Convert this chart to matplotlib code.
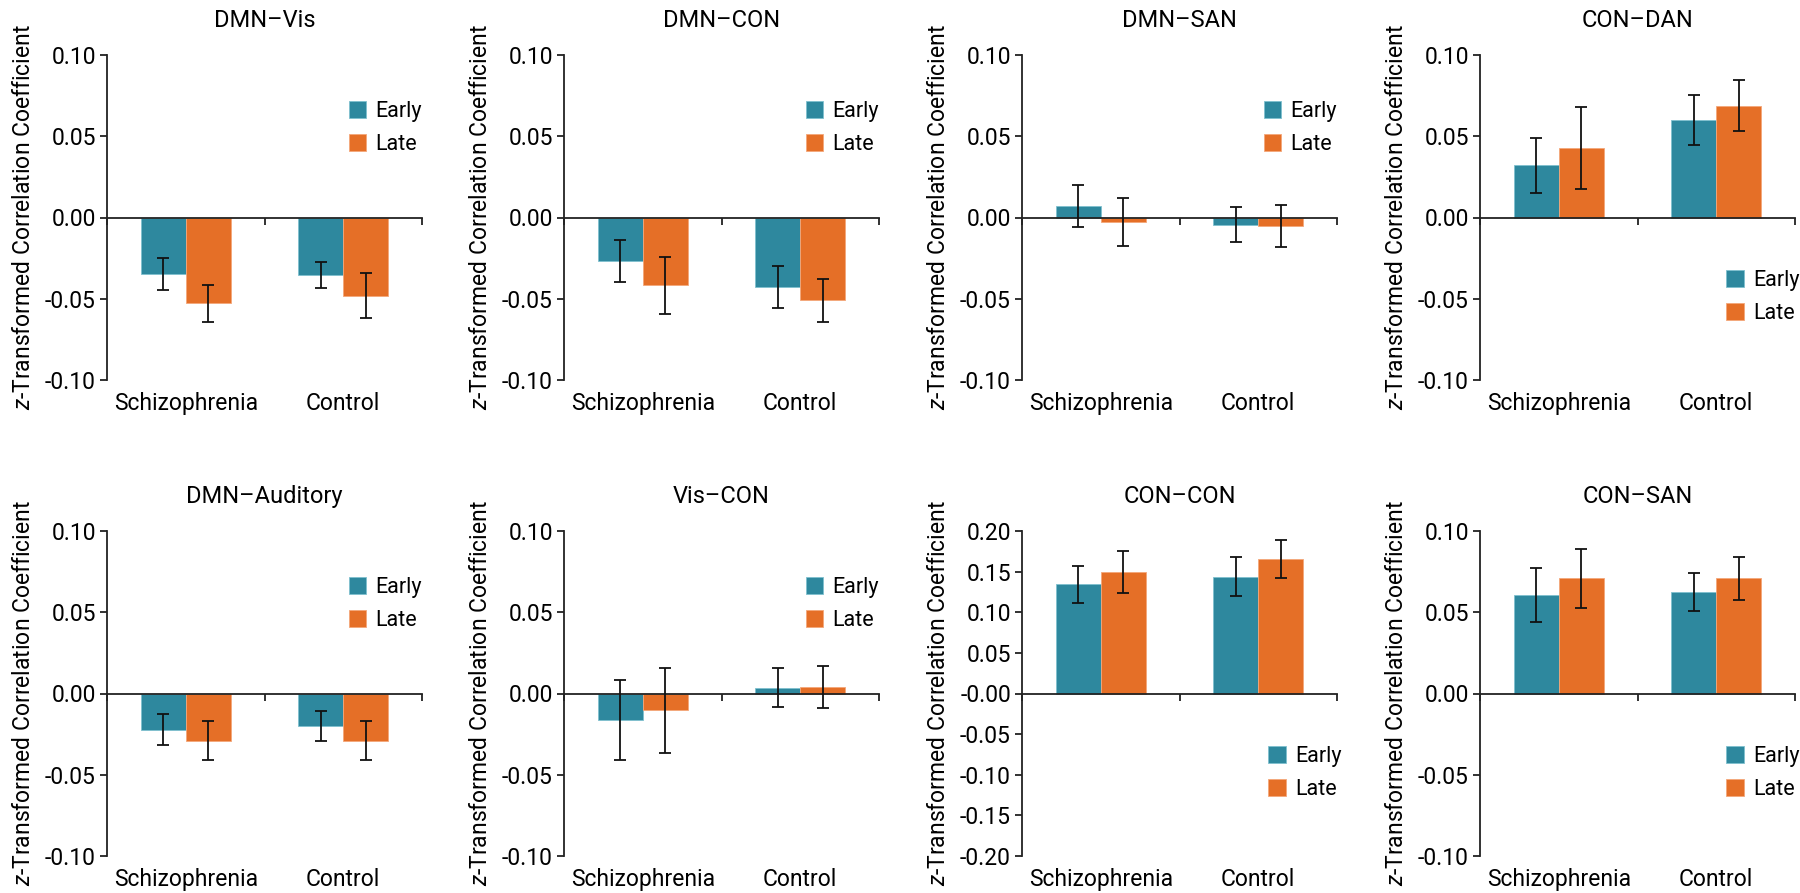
import matplotlib
matplotlib.use("Agg")
import matplotlib.pyplot as plt
import numpy as np

plt.rcParams['font.family'] = ['Roboto', 'DejaVu Sans']
plt.rcParams['mathtext.fontset'] = 'custom'
plt.rcParams['mathtext.it'] = 'Roboto:italic'
plt.rcParams['mathtext.rm'] = 'Roboto'

titles = ["DMN\u2013Vis", "DMN\u2013CON", "DMN\u2013SAN", "CON\u2013DAN",
          "DMN\u2013Auditory", "Vis\u2013CON", "CON\u2013CON", "CON\u2013SAN"]
groups = ["Schizophrenia", "Control"]
series = ["Early", "Late"]

# values per panel: [Schizophrenia, Control]
early_vals = [[-0.0348, -0.0355], [-0.0268, -0.0426], [0.0072, -0.0045], [0.0322, 0.0600],
              [-0.0222, -0.0199], [-0.0162, 0.0035], [0.1347, 0.1437], [0.0606, 0.0622]]
late_vals = [[-0.0529, -0.0480], [-0.0418, -0.0510], [-0.0029, -0.0051], [0.0426, 0.0689],
             [-0.0290, -0.0290], [-0.0103, 0.0039], [0.1495, 0.1655], [0.0708, 0.0708]]
early_err = [[0.0097, 0.0080], [0.0128, 0.0130], [0.0130, 0.0108], [0.0169, 0.0155],
             [0.0095, 0.0092], [0.0247, 0.0120], [0.0228, 0.0238], [0.0168, 0.0117]]
late_err = [[0.0115, 0.0138], [0.0174, 0.0133], [0.0148, 0.0130], [0.0252, 0.0156],
            [0.0118, 0.0121], [0.0263, 0.0130], [0.0253, 0.0232], [0.0179, 0.0133]]
y_limits = [0.10, 0.10, 0.10, 0.10, 0.10, 0.10, 0.20, 0.10]
legend_low = [False, False, False, True, False, False, True, True]

c_early = "#2E889E"
c_late = "#E56F27"
e_early = "#7FC0CF"
e_late = "#F4A77A"

fig = plt.figure(figsize=(18, 8.93), dpi=100)
W, H = 1800, 893
lefts = [107, 564, 1022, 1480]
tops = [55, 531]
aw, ah = 315, 325

for i in range(8):
    r, c = divmod(i, 4)
    ax = fig.add_axes([lefts[c] / W, 1 - (tops[r] + ah) / H, aw / W, ah / H])
    x = np.array([0.5, 1.5])
    bw = 0.285
    ax.bar(x - bw / 2, early_vals[i], bw, color=c_early, edgecolor=e_early, linewidth=0.6,
           label=series[0], zorder=2)
    ax.bar(x + bw / 2, late_vals[i], bw, color=c_late, edgecolor=e_late, linewidth=0.6,
           label=series[1], zorder=2)
    ax.errorbar(x - bw / 2, early_vals[i], yerr=early_err[i], fmt='none', ecolor='#111111',
                elinewidth=1.3, capsize=4.5, capthick=1.3, zorder=3)
    ax.errorbar(x + bw / 2, late_vals[i], yerr=late_err[i], fmt='none', ecolor='#111111',
                elinewidth=1.3, capsize=4.5, capthick=1.3, zorder=3)
    lim = y_limits[i]
    ax.set_ylim(-lim, lim)
    ax.set_xlim(0, 2)
    ax.set_yticks(np.round(np.arange(-lim, lim + 1e-9, 0.05), 2))
    ax.yaxis.set_major_formatter(matplotlib.ticker.FormatStrFormatter('%.2f'))
    ax.set_xticks([0, 1, 2])
    ax.set_xticklabels([])
    for s in ['top', 'right']:
        ax.spines[s].set_visible(False)
    ax.spines['bottom'].set_position(('data', 0))
    for s in ['left', 'bottom']:
        ax.spines[s].set_linewidth(1.3)
        ax.spines[s].set_color('#222222')
    ax.tick_params(axis='both', direction='out', length=5, width=1.3, color='#222222',
                   labelsize=16.5, pad=3)
    for j, g in enumerate(groups):
        ax.text(x[j], -0.072, g, transform=ax.get_xaxis_transform(), ha='center', va='center',
                fontsize=16.5)
    ax.set_title(titles[i], fontsize=17, pad=20)
    ax.set_ylabel(r'$\it{z}$-Transformed Correlation Coefficient', fontsize=16.5, labelpad=7)
    if legend_low[i]:
        anchor = (0.755, 0.365)
    else:
        anchor = (0.74, 0.885)
    ax.legend(loc='upper left', bbox_to_anchor=anchor, frameon=False,
              fontsize=15.5, handlelength=0.8, handleheight=0.8, handletextpad=0.45,
              labelspacing=0.55, borderaxespad=0)

fig.savefig("out.png", dpi=100)
